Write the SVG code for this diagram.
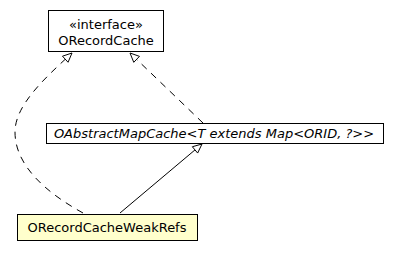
<svg xmlns="http://www.w3.org/2000/svg" width="401" height="256" viewBox="0 0 401 256">
  <style>
    .box { fill: #ffffff; stroke: #000000; stroke-width: 1; }
    .hl { fill: #ffffcc; stroke: #000000; stroke-width: 1; }
    .lbl { font-family: "DejaVu Sans", sans-serif; font-size: 13px; fill: #000000; text-anchor: middle; }
    .it { font-style: italic; }
    .edge { fill: none; stroke: #000000; stroke-width: 1; }
    .dash { stroke-dasharray: 7,6; }
  </style>
  <defs>
    <marker id="realize" viewBox="0 0 12 12" refX="11" refY="6" markerWidth="11" markerHeight="11" markerUnits="userSpaceOnUse" orient="auto">
      <path d="M1,1.5 L11,6 L1,10.5 Z" fill="#ffffff" stroke="#000000" stroke-width="1"/>
    </marker>
  </defs>

  <g id="ORecordCache">
    <rect class="box" x="48.5" y="10.5" width="115" height="41"/>
    <text class="lbl" x="106" y="29">«interface»</text>
    <text class="lbl" x="106" y="45">ORecordCache</text>
  </g>

  <g id="OAbstractMapCache">
    <rect class="box" x="46.5" y="123.5" width="337" height="20"/>
    <text class="lbl it" x="214" y="138">OAbstractMapCache&lt;T extends Map&lt;ORID, ?&gt;&gt;</text>
  </g>

  <g id="ORecordCacheWeakRefs">
    <rect class="hl" x="17.5" y="214.5" width="180" height="26"/>
    <text class="lbl" x="107" y="232">ORecordCacheWeakRefs</text>
  </g>

  <g id="connectors">
    <path class="edge dash" d="M83,213 C45,192 15,165 15,132 C15,105 45,78 72,53" marker-end="url(#realize)"/>
    <path class="edge dash" d="M203,123 L130,53" marker-end="url(#realize)"/>
    <path class="edge" d="M120,213 L202,144" marker-end="url(#realize)"/>
  </g>
</svg>
